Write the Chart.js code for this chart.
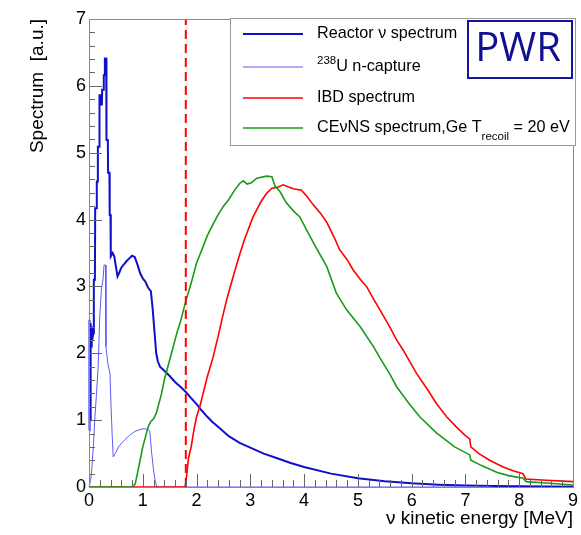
<!DOCTYPE html>
<html>
<head>
<meta charset="utf-8">
<script src="https://cdn.jsdelivr.net/npm/chart.js@4"></script>
<style>
  body { margin: 0; background: #fff; }
  canvas { display: block; }
</style>
</head>
<body>
<canvas id="myChart" width="581" height="535"></canvas>
<script>
// values (energy in MeV, spectrum in a.u.)
const reactorE = [0, 0.01, 0.02, 0.03, 0.04, 0.05, 0.06, 0.08, 0.09, 0.11, 0.115, 0.14, 0.145, 0.16, 0.165, 0.19, 0.195, 0.21, 0.215, 0.24, 0.245, 0.27, 0.275, 0.29, 0.295, 0.32, 0.325, 0.35, 0.355, 0.38, 0.385, 0.4, 0.405, 0.44, 0.47, 0.5, 0.53, 0.56, 0.6, 0.65, 0.7, 0.75, 0.8, 0.85, 0.9, 0.95, 1.0, 1.05, 1.1, 1.15, 1.18, 1.2, 1.22, 1.25, 1.28, 1.32, 1.4, 1.5, 1.6, 1.7, 1.8, 1.9, 2.0, 2.1, 2.2, 2.3, 2.4, 2.5, 2.6, 2.8, 3.0, 3.25, 3.5, 3.75, 4.0, 4.5, 5.0, 5.5, 6.0, 6.5, 7.0, 7.5, 8.0, 8.5, 9.0];
const reactorY = [0.85, 2.5, 1.0, 2.45, 2.1, 2.4, 2.2, 2.3, 3.1, 3.1, 4.17, 4.17, 4.57, 4.57, 5.09, 5.09, 5.86, 5.86, 5.72, 5.72, 5.94, 5.94, 6.16, 6.16, 6.41, 6.41, 5.19, 5.19, 4.7, 4.7, 4.07, 4.07, 3.45, 3.5, 3.45, 3.3, 3.15, 3.2, 3.28, 3.33, 3.38, 3.42, 3.46, 3.44, 3.33, 3.2, 3.12, 3.07, 2.98, 2.93, 2.7, 2.5, 2.3, 2.0, 1.88, 1.8, 1.74, 1.66, 1.57, 1.5, 1.42, 1.33, 1.24, 1.14, 1.05, 0.97, 0.9, 0.83, 0.76, 0.66, 0.59, 0.5, 0.43, 0.36, 0.3, 0.2, 0.13, 0.085, 0.055, 0.035, 0.022, 0.015, 0.01, 0.006, 0.004];

const captureE = [0, 0.03, 0.05, 0.08, 0.11, 0.14, 0.17, 0.2, 0.23, 0.26, 0.28, 0.31, 0.315, 0.35, 0.39, 0.41, 0.43, 0.45, 0.5, 0.55, 0.6, 0.67, 0.75, 0.85, 0.95, 1.0, 1.05, 1.1, 1.13, 1.16, 1.2, 1.23, 1.26, 7.5];
const captureY = [0, 0.1, 0.25, 0.6, 1.05, 1.4, 1.8, 2.55, 2.95, 3.1, 3.32, 3.32, 2.1, 1.85, 1.7, 1.2, 0.8, 0.45, 0.52, 0.6, 0.65, 0.71, 0.77, 0.83, 0.86, 0.87, 0.87, 0.86, 0.84, 0.55, 0.25, 0.1, 0, 0];

const ibdE = [0, 1.79, 1.82, 1.85, 1.9, 1.95, 2.0, 2.06, 2.1, 2.2, 2.31, 2.4, 2.5, 2.56, 2.7, 2.81, 2.9, 3.05, 3.2, 3.3, 3.4, 3.5, 3.61, 3.7, 3.8, 3.95, 4.05, 4.17, 4.3, 4.42, 4.55, 4.66, 4.8, 4.91, 5.05, 5.16, 5.3, 5.41, 5.59, 5.72, 5.84, 6.09, 6.3, 6.46, 6.65, 6.83, 7.0, 7.08, 7.1, 7.25, 7.45, 7.7, 7.9, 8.07, 8.12, 8.5, 9.0];
const ibdY = [0, 0, 0.2, 0.43, 0.6, 0.85, 1.05, 1.2, 1.33, 1.65, 1.95, 2.25, 2.6, 2.8, 3.2, 3.5, 3.72, 4.04, 4.27, 4.39, 4.47, 4.48, 4.52, 4.49, 4.46, 4.44, 4.35, 4.22, 4.1, 3.96, 3.75, 3.55, 3.4, 3.25, 3.1, 3.0, 2.8, 2.65, 2.4, 2.2, 2.05, 1.7, 1.45, 1.25, 1.05, 0.9, 0.77, 0.72, 0.6, 0.5, 0.4, 0.3, 0.24, 0.2, 0.12, 0.1, 0.08];

const cevnsE = [0, 0.82, 0.86, 0.9, 0.95, 1.0, 1.05, 1.1, 1.15, 1.2, 1.25, 1.3, 1.35, 1.4, 1.45, 1.5, 1.55, 1.6, 1.65, 1.7, 1.8, 1.9, 2.0, 2.1, 2.2, 2.3, 2.4, 2.5, 2.6, 2.7, 2.8, 2.87, 2.94, 3.02, 3.12, 3.3, 3.4, 3.46, 3.55, 3.67, 3.8, 3.92, 4.05, 4.23, 4.42, 4.6, 4.79, 5.04, 5.29, 5.41, 5.6, 5.72, 5.95, 6.15, 6.46, 6.8, 7.08, 7.1, 7.3, 7.58, 7.8, 8.07, 8.13, 8.5, 9.0];
const cevnsY = [0, 0, 0.05, 0.2, 0.4, 0.6, 0.75, 0.9, 0.98, 1.02, 1.1, 1.25, 1.4, 1.6, 1.75, 1.9, 2.05, 2.2, 2.35, 2.47, 2.78, 3.05, 3.35, 3.55, 3.76, 3.92, 4.07, 4.2, 4.3, 4.43, 4.54, 4.58, 4.53, 4.55, 4.62, 4.65, 4.64, 4.5, 4.42, 4.25, 4.13, 4.04, 3.84, 3.57, 3.3, 2.9, 2.65, 2.4, 2.1, 1.93, 1.68, 1.5, 1.25, 1.05, 0.81, 0.6, 0.48, 0.4, 0.32, 0.22, 0.17, 0.13, 0.08, 0.06, 0.03];

const thresholdE = [1.8, 1.8];
const thresholdY = [0, 7];

const xTicks = [0, 1, 2, 3, 4, 5, 6, 7, 8, 9];
const yTicks = [0, 1, 2, 3, 4, 5, 6, 7];

function toPoints(xs, ys) {
  return xs.map(function(x, i) { return { x: x, y: ys[i] }; });
}

const fontName = '"Liberation Sans", Arial, sans-serif';

// ROOT-like frame, inward ticks, legend and the PWR label
const frameDecor = {
  id: 'frameDecor',
  afterDraw: function(chart) {
    const ctx = chart.ctx;
    const a = chart.chartArea;
    const xs = chart.scales.x, ys = chart.scales.y;
    ctx.save();

    ctx.strokeStyle = '#666';
    ctx.lineWidth = 1;
    ctx.beginPath();
    for (let i = 0; i <= xTicks[xTicks.length - 1] * 5; i++) {
      const px = Math.round(xs.getPixelForValue(i / 5)) + 0.5;
      const len = i % 5 === 0 ? 13 : 7;
      ctx.moveTo(px, a.bottom);
      ctx.lineTo(px, a.bottom - len);
    }
    for (let i = 0; i <= yTicks[yTicks.length - 1] * 5; i++) {
      const py = Math.round(ys.getPixelForValue(i / 5)) + 0.5;
      const len = i % 5 === 0 ? 13 : 6;
      ctx.moveTo(a.left, py);
      ctx.lineTo(a.left + len, py);
    }
    ctx.stroke();
    ctx.strokeStyle = '#888';
    ctx.strokeRect(a.left + 0.5, a.top + 0.5, a.right - a.left, a.bottom - a.top);

    // legend box
    const lx = 230, ly = 18, lw = 345, lh = 127;
    ctx.fillStyle = '#fff';
    ctx.fillRect(lx, ly, lw, lh);
    ctx.strokeStyle = '#999';
    ctx.strokeRect(lx + 0.5, ly + 0.5, lw, lh);

    const rows = [34, 67, 98, 128];
    let r = 0;
    chart.data.datasets.forEach(function(ds) {
      if (!ds.legendParts) return;
      const y = rows[r++];
      ctx.strokeStyle = ds.borderColor;
      ctx.lineWidth = ds.borderWidth;
      ctx.beginPath();
      ctx.moveTo(243, y);
      ctx.lineTo(303, y);
      ctx.stroke();
      let tx = 317;
      ctx.fillStyle = '#000';
      ctx.textBaseline = 'middle';
      ds.legendParts.forEach(function(p) {
        let dy = 0;
        if (p.sup) { ctx.font = '11.5px ' + fontName; dy = -6; }
        else if (p.sub) { ctx.font = '11.5px ' + fontName; dy = 9; }
        else { ctx.font = '16.2px ' + fontName; }
        ctx.fillText(p.t, tx, y + dy);
        tx += ctx.measureText(p.t).width;
      });
    });

    // PWR box
    ctx.strokeStyle = '#15159a';
    ctx.lineWidth = 2;
    ctx.strokeRect(468, 21, 104, 57);
    ctx.fillStyle = '#101090';
    ctx.font = '40px "Open Sans", sans-serif';
    ctx.textAlign = 'center';
    ctx.textBaseline = 'middle';
    ctx.fillText('PWR', 518, 50);
    ctx.restore();
  }
};

const data = {
  datasets: [
    {
      label: 'threshold',
      data: toPoints(thresholdE, thresholdY),
      borderColor: '#ff0000',
      borderWidth: 2,
      borderDash: [9, 5],
      order: 0
    },
    {
      label: 'Reactor ν spectrum',
      legendParts: [{ t: 'Reactor ν spectrum' }],
      data: toPoints(reactorE, reactorY),
      borderColor: '#1010c8',
      borderWidth: 2,
      order: 4
    },
    {
      label: '238U n-capture',
      legendParts: [{ t: '238', sup: true }, { t: 'U n-capture' }],
      data: toPoints(captureE, captureY),
      borderColor: '#5c5cf5',
      borderWidth: 1,
      order: 3
    },
    {
      label: 'IBD spectrum',
      legendParts: [{ t: 'IBD spectrum' }],
      data: toPoints(ibdE, ibdY),
      borderColor: '#ff0000',
      borderWidth: 1.6,
      order: 2
    },
    {
      label: 'CEνNS spectrum,Ge T_recoil = 20 eV',
      legendParts: [{ t: 'CEνNS spectrum,Ge T' }, { t: 'recoil', sub: true }, { t: ' = 20 eV' }],
      data: toPoints(cevnsE, cevnsY),
      borderColor: '#1a9a1a',
      borderWidth: 1.6,
      order: 1
    }
  ]
};

new Chart(document.getElementById('myChart'), {
  type: 'line',
  data: data,
  plugins: [frameDecor],
  options: {
    responsive: false,
    animation: false,
    devicePixelRatio: 1,
    layout: { padding: { top: 19, right: 8, left: 0, bottom: 0 } },
    elements: {
      point: { radius: 0 },
      line: { tension: 0, fill: false }
    },
    datasets: { line: { clip: false } },
    plugins: {
      legend: { display: false },
      tooltip: { enabled: false }
    },
    scales: {
      x: {
        type: 'linear',
        min: 0,
        max: 9,
        afterFit: function(scale) { scale.height = 48; },
        afterBuildTicks: function(scale) { scale.ticks = xTicks.map(function(v) { return { value: v }; }); },
        grid: { display: false, drawTicks: false },
        border: { display: false },
        ticks: { color: '#000', padding: 3, font: { family: fontName, size: 18 } },
        title: {
          display: true,
          text: 'ν kinetic energy [MeV]',
          align: 'end',
          color: '#000',
          padding: { top: 0, bottom: 5 },
          font: { family: fontName, size: 19 }
        }
      },
      y: {
        min: 0,
        max: 7,
        afterFit: function(scale) { scale.width = 89; },
        afterBuildTicks: function(scale) { scale.ticks = yTicks.map(function(v) { return { value: v }; }); },
        grid: { display: false, drawTicks: false },
        border: { display: false },
        ticks: { color: '#000', padding: 3, font: { family: fontName, size: 18 } },
        title: {
          display: true,
          text: 'Spectrum  [a.u.]',
          align: 'end',
          color: '#000',
          padding: { top: 26, bottom: 0 },
          font: { family: fontName, size: 19 }
        }
      }
    }
  }
});
</script>
</body>
</html>
